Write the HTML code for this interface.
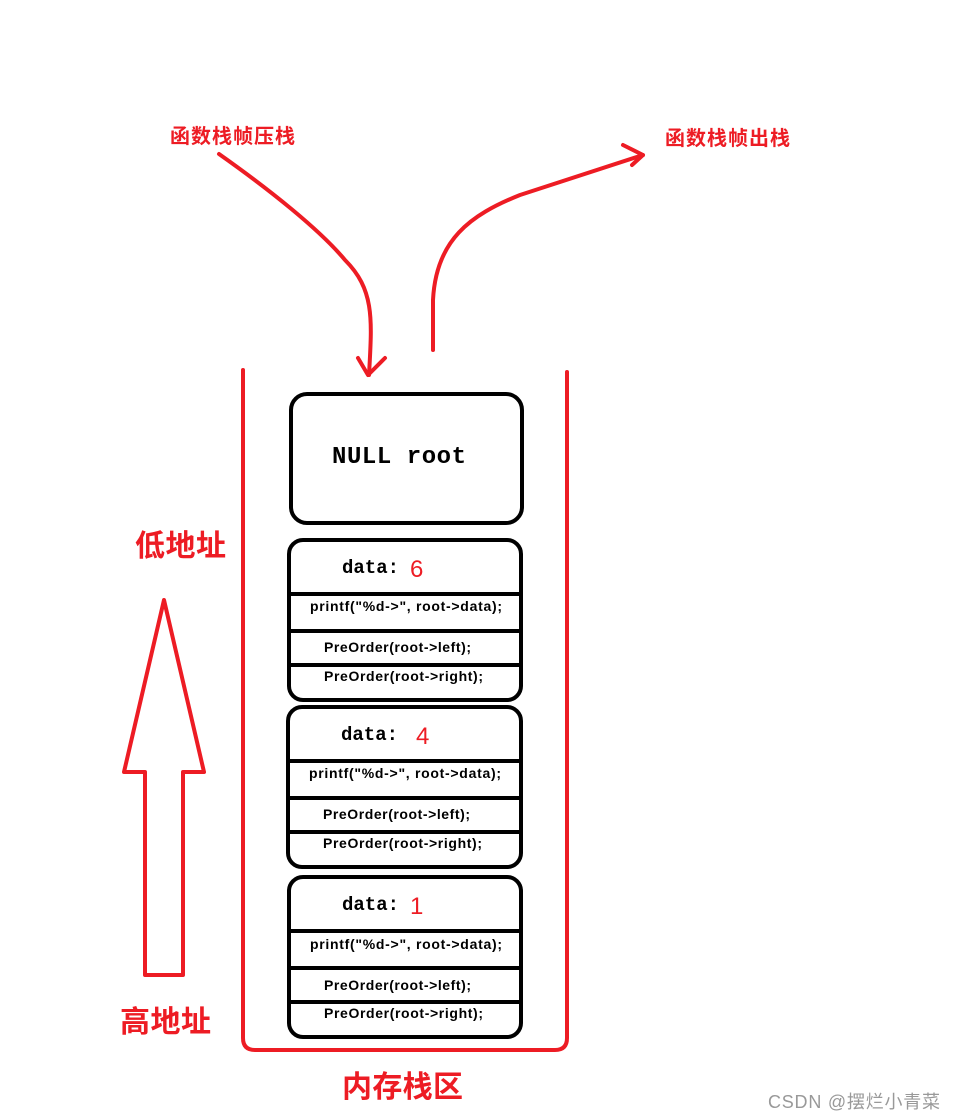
<!DOCTYPE html>
<html><head><meta charset="utf-8"><style>
html,body{margin:0;padding:0;background:#fff;}
svg{display:block}
text{font-family:"Liberation Sans","Noto Sans CJK SC",sans-serif;}
</style></head><body>
<svg width="955" height="1120" viewBox="0 0 955 1120" xmlns="http://www.w3.org/2000/svg">
<g fill="none" stroke="#ed1c24" stroke-width="4" stroke-linecap="round" stroke-linejoin="round">
<path d="M219,154 C270,190 320,230 345,260 C375,290 372,320 369,375"/>
<path d="M358,358 L368,375 L385,358"/>
<path d="M433,350 L433,300 C436,240 470,215 520,195 L643,155"/>
<path d="M623,145 L643,155 L632,165"/>
<path d="M243,370 L243,1038 Q243,1050 255,1050 L555,1050 Q567,1050 567,1038 L567,372"/>
<path d="M164,600 L204,772 L183,772 L183,975 L145,975 L145,772 L124,772 Z"/>
</g>
<g fill="#ed1c24" font-weight="bold">
<text x="170" y="143" font-size="20" textLength="125">函数栈帧压栈</text>
<text x="665" y="145" font-size="20" textLength="125">函数栈帧出栈</text>
<text x="135" y="556" font-size="30" textLength="91">低地址</text>
<text x="120" y="1032" font-size="30" textLength="91">高地址</text>
<text x="342" y="1097" font-size="30" textLength="121">内存栈区</text>
</g>
<g fill="none" stroke="#000" stroke-width="4">
<rect x="291" y="394" width="231" height="129" rx="16"/>
<rect x="289" y="540" width="232" height="160" rx="14"/>
<path d="M289,594H521M289,631H521M289,665H521"/>
<rect x="288" y="707" width="233" height="160" rx="14"/>
<path d="M288,761H521M288,798H521M288,832H521"/>
<rect x="289" y="877" width="232" height="160" rx="14"/>
<path d="M289,931H521M289,968H521M289,1002H521"/>
</g>
<text x="332" y="463" font-size="24" font-weight="bold" textLength="134" style="font-family:'Liberation Mono',monospace">NULL root</text>
<g font-weight="bold" font-size="14" fill="#000">
<text x="342" y="573" font-size="19" style="font-family:'Liberation Mono',monospace">data:</text>
<text x="410" y="577" font-size="24" font-weight="normal" fill="#ed1c24">6</text>
<text x="310" y="611" textLength="192">printf("%d-&gt;", root-&gt;data);</text>
<text x="324" y="652" textLength="147">PreOrder(root-&gt;left);</text>
<text x="324" y="681" textLength="159">PreOrder(root-&gt;right);</text>
<text x="341" y="740" font-size="19" style="font-family:'Liberation Mono',monospace">data:</text>
<text x="416" y="744" font-size="24" font-weight="normal" fill="#ed1c24">4</text>
<text x="309" y="778" textLength="192">printf("%d-&gt;", root-&gt;data);</text>
<text x="323" y="819" textLength="147">PreOrder(root-&gt;left);</text>
<text x="323" y="848" textLength="159">PreOrder(root-&gt;right);</text>
<text x="342" y="910" font-size="19" style="font-family:'Liberation Mono',monospace">data:</text>
<text x="410" y="914" font-size="24" font-weight="normal" fill="#ed1c24">1</text>
<text x="310" y="949" textLength="192">printf("%d-&gt;", root-&gt;data);</text>
<text x="324" y="990" textLength="147">PreOrder(root-&gt;left);</text>
<text x="324" y="1018" textLength="159">PreOrder(root-&gt;right);</text>
</g>
<text x="768" y="1108" font-size="18" fill="#999" textLength="172">CSDN @摆烂小青菜</text>
</svg>
</body></html>
